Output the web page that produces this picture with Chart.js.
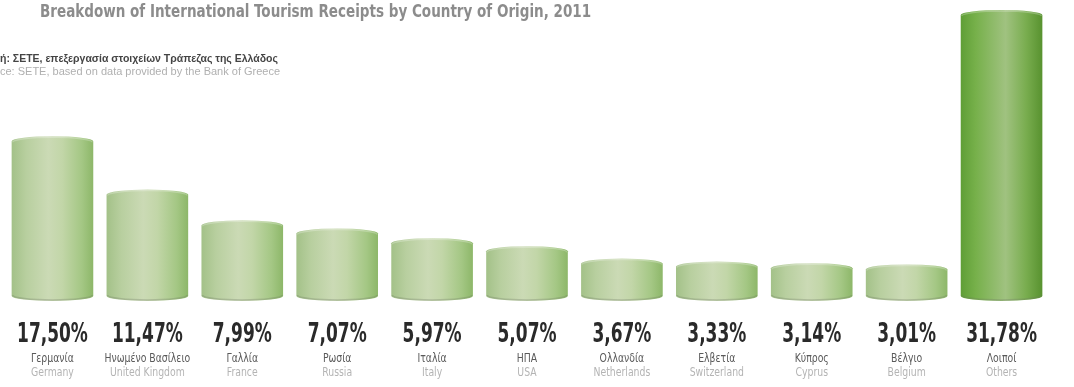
<!DOCTYPE html>
<html>
<head>
<meta charset="utf-8">
<script src="https://cdn.jsdelivr.net/npm/chart.js@4"></script>
<style>
  html, body { margin: 0; padding: 0; background: #fff; }
  #wrap { width: 1074px; height: 387px; position: relative; }
</style>
</head>
<body>
<div id="wrap"><canvas id="receipts-chart"></canvas></div>
<script>
// share of international tourism receipts, 2011 (%)
var shares = [17.50, 11.47, 7.99, 7.07, 5.97, 5.07, 3.67, 3.33, 3.14, 3.01, 31.78];
var labelsGr = ["Γερμανία", "Ηνωμένο Βασίλειο", "Γαλλία", "Ρωσία", "Ιταλία", "ΗΠΑ",
                "Ολλανδία", "Ελβετία", "Κύπρος", "Βέλγιο", "Λοιποί"];
var labelsEn = ["Germany", "United Kingdom", "France", "Russia", "Italy", "USA",
                "Netherlands", "Switzerland", "Cyprus", "Belgium", "Others"];

var titleText = "Breakdown of International Tourism Receipts by Country of Origin, 2011";
var sourceGr = "Πηγή: ΣΕΤΕ, επεξεργασία στοιχείων Τράπεζας της Ελλάδος";
var sourceEn = "Source: SETE, based on data provided by the Bank of Greece";

// horizontal shading of the cylinders
var countryShade = [[0, "#a3c188"], [0.18, "#b8cf9f"], [0.45, "#cbdab5"], [0.62, "#c2d6a8"], [0.86, "#a4c784"], [1, "#8db769"]];
var othersShade = [[0, "#5f9e36"], [0.18, "#76b04a"], [0.55, "#a0c280"], [0.8, "#79ad4f"], [1, "#58922f"]];

var condensedFont = "'DejaVu Sans Condensed', 'DejaVu Sans', sans-serif";

function fmtPct(v) {
    return v.toFixed(2).replace(".", ",") + "%";
}

// draws text squeezed horizontally by sx around its anchor
function squeezedText(ctx, text, x, y, sx) {
    ctx.save();
    ctx.translate(x, y);
    ctx.scale(sx, 1);
    ctx.fillText(text, 0, 0);
    ctx.restore();
}

var cylinderBars = {
    id: "cylinderBars",
    afterDatasetsDraw: function (chart) {
        var ctx = chart.ctx,
            meta = chart.getDatasetMeta(0),
            ry = 5;

        meta.data.forEach(function (bar, i) {
            var half = bar.width / 2,
                left = bar.x - half,
                right = bar.x + half,
                shade = i === meta.data.length - 1 ? othersShade : countryShade,
                grad = ctx.createLinearGradient(left, 0, right, 0);

            shade.forEach(function (s) { grad.addColorStop(s[0], s[1]); });

            ctx.save();
            ctx.beginPath();
            ctx.moveTo(left, bar.y);
            ctx.lineTo(left, bar.base);
            ctx.ellipse(bar.x, bar.base, half, ry, 0, Math.PI, 0, true);
            ctx.lineTo(right, bar.y);
            ctx.ellipse(bar.x, bar.y, half, ry, 0, 0, Math.PI, true);
            ctx.closePath();
            ctx.fillStyle = grad;
            ctx.fill();

            // soft rim on the top arch
            ctx.beginPath();
            ctx.ellipse(bar.x, bar.y + 1, half - 1, ry, 0, Math.PI, 0, false);
            ctx.strokeStyle = "rgba(255,255,255,0.25)";
            ctx.lineWidth = 1.5;
            ctx.stroke();

            // shadowed bottom edge
            ctx.beginPath();
            ctx.ellipse(bar.x, bar.base - 1, half - 1, ry, 0, 0, Math.PI, false);
            ctx.strokeStyle = "rgba(110,120,100,0.3)";
            ctx.lineWidth = 1.5;
            ctx.stroke();
            ctx.restore();
        });
    }
};

var captions = {
    id: "captions",
    afterDraw: function (chart) {
        var ctx = chart.ctx,
            xScale = chart.scales.x,
            base = chart.chartArea.bottom;

        ctx.save();
        ctx.textAlign = "center";
        ctx.textBaseline = "alphabetic";
        shares.forEach(function (v, i) {
            var x = xScale.getPixelForValue(i);
            ctx.fillStyle = "#2a2a2a";
            ctx.font = "bold 27px " + condensedFont;
            squeezedText(ctx, fmtPct(v), x, base + 46, 0.7);
            ctx.font = "11.5px " + condensedFont;
            ctx.fillStyle = "#5a5a5a";
            squeezedText(ctx, labelsGr[i], x, base + 66, 0.9);
            ctx.fillStyle = "#b4b4b4";
            squeezedText(ctx, labelsEn[i], x, base + 80, 0.9);
        });

        // heading and source notes
        ctx.textAlign = "left";
        ctx.fillStyle = "#8c8c8c";
        ctx.font = "bold 18px " + condensedFont;
        squeezedText(ctx, titleText, 40, 17, 0.835);

        ctx.font = "bold 10.5px 'Liberation Sans', sans-serif";
        ctx.fillStyle = "#444";
        ctx.fillText(sourceGr, -ctx.measureText("Πηγ").width, 62);
        ctx.font = "11px 'Liberation Sans', sans-serif";
        ctx.fillStyle = "#b0b0b0";
        ctx.fillText(sourceEn, -ctx.measureText("Sour").width, 75);
        ctx.restore();
    }
};

new Chart("receipts-chart", {
    type: "bar",
    data: {
        labels: labelsEn,
        datasets: [{
            label: "Receipts share",
            data: shares,
            backgroundColor: "rgba(0,0,0,0)",
            borderWidth: 0,
            barPercentage: 0.86,
            categoryPercentage: 1.0
        }]
    },
    options: {
        responsive: true,
        maintainAspectRatio: false,
        animation: false,
        layout: { padding: { left: 5, right: 25, top: 13, bottom: 91 } },
        scales: {
            x: { display: false, offset: true },
            y: { display: false, min: 0, max: 32 }
        },
        plugins: {
            legend: { display: false },
            tooltip: { enabled: false }
        }
    },
    plugins: [cylinderBars, captions]
});
</script>
</body>
</html>
